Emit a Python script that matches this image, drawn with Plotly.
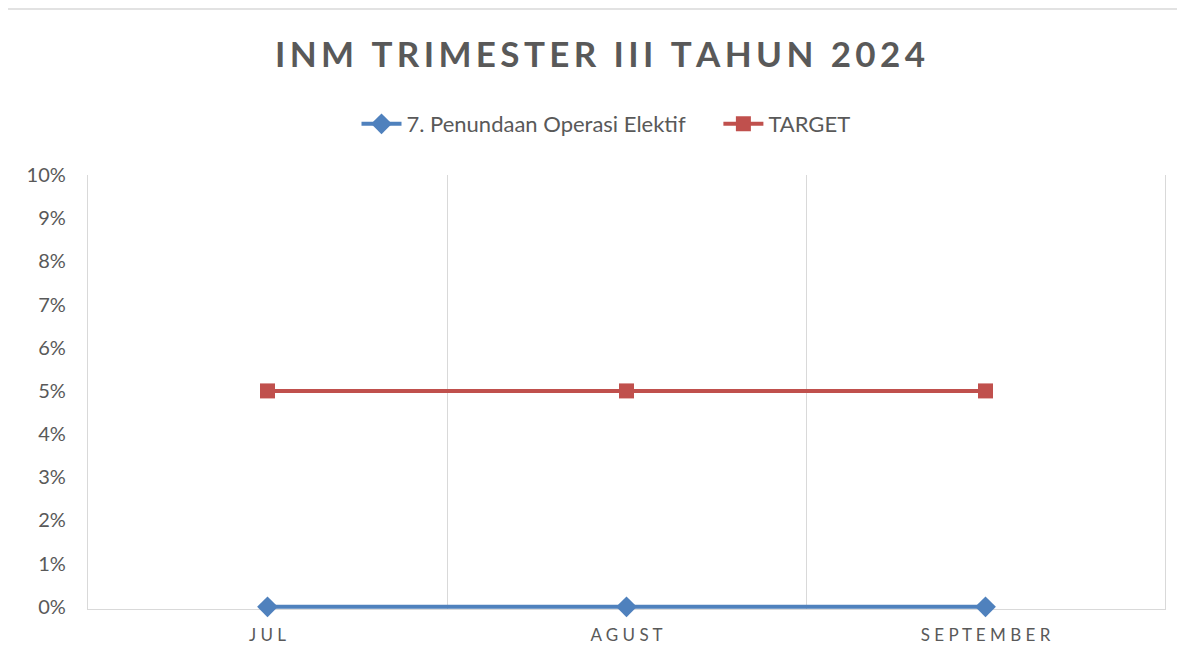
import plotly.graph_objects as go

MONTHS = ["JUL", "AGUST", "SEPTEMBER"]
PENUNDAAN = [0.0, 0.0, 0.0]
TARGET = [0.05, 0.05, 0.05]

TEXT = "#595959"
GRID = "#d9d9d9"
FONT = "Lato, 'Open Sans', sans-serif"

# the page body has an 8px margin, so the figure is a bit smaller than the window
W, H = 1177, 648
L, T, R, B = 80, 167, 20, 47
PW, PH = W - L - R, H - T - B
YMIN = -0.0005  # a little room so the 0% line is not clipped by the plot area

def spaced(s, sep="\u2009"):
    return sep.join(s)

fig = go.Figure()
fig.add_trace(go.Scatter(
    x=MONTHS, y=PENUNDAAN, name="7. Penundaan Operasi Elektif\u00a0\u00a0\u00a0\u00a0\u00a0",
    mode="lines+markers",
    line=dict(color="#4f81bd", width=4),
    marker=dict(symbol="diamond", size=16, color="#4f81bd"),
    cliponaxis=False,
))
fig.add_trace(go.Scatter(
    x=MONTHS, y=TARGET, name="TARGET", mode="lines+markers",
    line=dict(color="#c0504d", width=4),
    marker=dict(symbol="square", size=15, color="#c0504d"),
    cliponaxis=False,
))

fig.update_layout(
    width=W, height=H,
    paper_bgcolor="white", plot_bgcolor="white",
    margin=dict(l=L, r=R, t=T, b=B),
    font=dict(family=FONT, color=TEXT),
    title=dict(
        text="<b>" + spaced("INM TRIMESTER III TAHUN 2024", "\u2009") + "</b>",
        x=(600 - 8) / W, xanchor="center", y=1 - 47 / H, yanchor="middle",
        font=dict(size=35, color=TEXT, family=FONT),
    ),
    legend=dict(
        orientation="h", x=(606 - 8 - L) / PW, xanchor="center", y=1 + (T - 116) / PH, yanchor="middle",
        font=dict(size=22, color=TEXT), itemwidth=40,
    ),
    showlegend=True,
    xaxis=dict(
        type="category", range=[-0.5, 2.5], tickson="boundaries",
        showgrid=True, gridcolor=GRID, gridwidth=1.3,
        showline=True, linecolor=GRID, linewidth=1.3, layer="below traces",
        tickvals=MONTHS, ticktext=[spaced(m, " ") for m in MONTHS],
        tickfont=dict(size=17, color=TEXT), ticks="", ticklabelstandoff=10,
    ),
    yaxis=dict(
        range=[YMIN, 0.1], tickvals=[i / 100 for i in range(11)], tickformat=".0%",
        showgrid=False, zeroline=False,
        showline=True, mirror=True, linecolor=GRID, linewidth=1.3, layer="below traces",
        tickfont=dict(size=20, color=TEXT), ticks="", ticklabelstandoff=17,
    ),
    shapes=[dict(
        type="rect", xref="paper", yref="paper",
        x0=(-1 - L) / PW, x1=1.03, y0=-0.2, y1=(PH + T - 1) / PH,
        line=dict(color=GRID, width=1.3), fillcolor="rgba(0,0,0,0)", layer="below",
    )],
)

fig.write_html("out.html")
